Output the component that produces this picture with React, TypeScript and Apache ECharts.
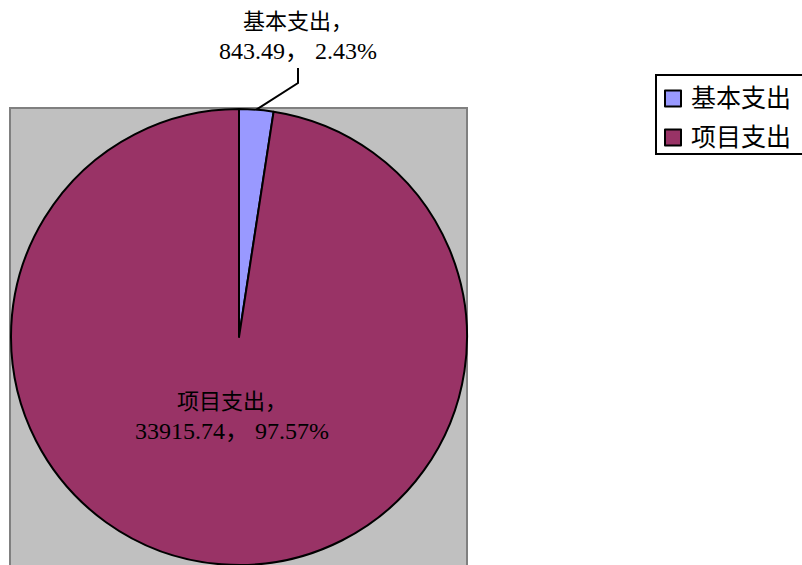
import React, { useEffect, useRef } from "react";
import * as echarts from "echarts";

const categories = ["基本支出", "项目支出"];
const values = [843.49, 33915.74];
const colors = ["#9999FF", "#993366"];

const FONT = "'Liberation Serif', 'Noto Sans CJK SC', serif";

export default function App() {
  const ref = useRef<HTMLDivElement>(null);
  useEffect(() => {
    if (!ref.current) return;
    const chart = echarts.init(ref.current, undefined, { renderer: "svg" });
    const data = categories.map((name, i) => ({
      name,
      value: values[i],
      itemStyle: { color: colors[i] },
      label:
        i === 0
          ? { position: "outside" as const }
          : { position: "inside" as const },
      labelLine: { show: i === 0 },
    }));
    chart.setOption({
      animation: false,
      backgroundColor: "#ffffff",
      graphic: [
        {
          type: "rect",
          z: -10,
          silent: true,
          shape: { x: 10, y: 108, width: 457, height: 470 },
          style: { fill: "#C0C0C0", stroke: "#808080", lineWidth: 2 },
        },
      ],
      legend: {
        orient: "vertical",
        left: 656,
        top: 75,
        icon: "rect",
        itemWidth: 16,
        itemHeight: 16,
        itemGap: 14,
        borderColor: "#000",
        borderWidth: 2,
        padding: [11, 30, 4, 8],
        itemStyle: { borderColor: "#000", borderWidth: 2 },
        textStyle: {
          fontSize: 25,
          fontFamily: FONT,
          color: "#000",
          padding: [0, 0, 0, 5],
        },
        data: categories,
      },
      series: [
        {
          type: "pie",
          center: [239, 337],
          radius: 228,
          startAngle: 90,
          clockwise: true,
          avoidLabelOverlap: false,
          itemStyle: { borderColor: "#000", borderWidth: 2 },
          emphasis: { disabled: true },
          label: {
            show: true,
            color: "#000",
            fontSize: 22,
            lineHeight: 30,
            fontFamily: FONT,
            align: "center",
            formatter: (p: any) =>
              `{c|${p.name}，}\n{n|${p.value}， ${p.percent.toFixed(2)}%}`,
            rich: {
              c: { fontSize: 22, lineHeight: 30, fontFamily: FONT, color: "#000" },
              n: { fontSize: 24, lineHeight: 30, fontFamily: FONT, color: "#000" },
            },
          },
          labelLine: {
            show: true,
            smooth: false,
            lineStyle: { color: "#000", width: 2 },
          },
          labelLayout: (params: any) => {
            if (params.dataIndex === 0) {
              const p0 = params.labelLinePoints
                ? params.labelLinePoints[0]
                : [255, 108];
              return {
                x: 298,
                y: 36,
                align: "center",
                verticalAlign: "middle",
                labelLinePoints: [p0, [298, 83], [298, 68]],
              };
            }
            return {
              x: 232,
              y: 416,
              align: "center",
              verticalAlign: "middle",
            };
          },
          data,
        },
      ],
    });
    return () => chart.dispose();
  }, []);
  return (
    <div
      ref={ref}
      style={{ position: "absolute", left: 0, top: 0, width: 802, height: 565 }}
    />
  );
}
